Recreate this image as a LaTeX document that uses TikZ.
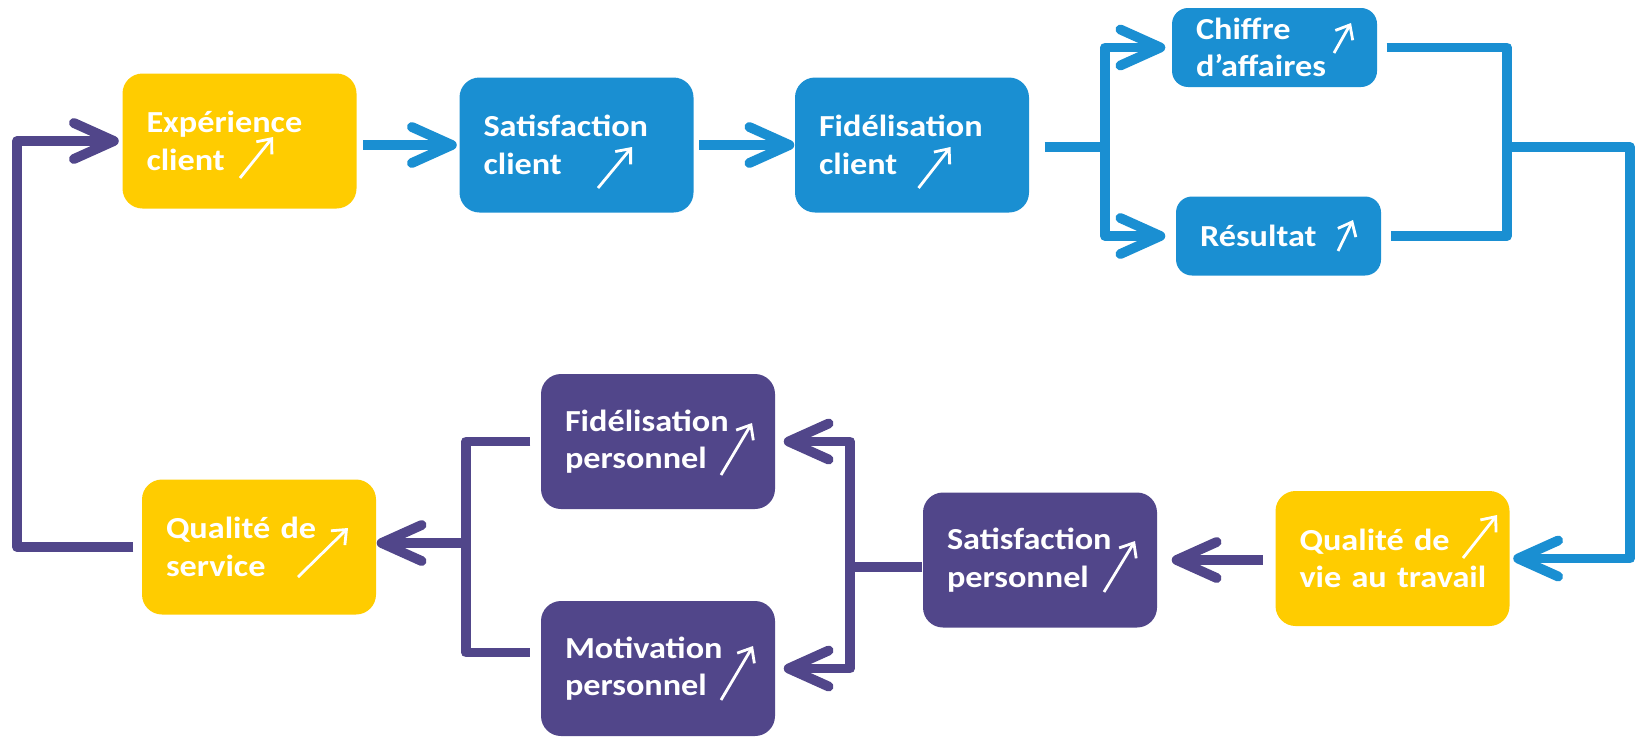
\documentclass[tikz,border=0pt]{standalone}
\usepackage{fontspec}
\setmainfont{Carlito}[FakeStretch=1.12]
\usepackage{tikz}
\usetikzlibrary{arrows.meta}
\definecolor{clientblue}{HTML}{1A8FD2}
\definecolor{staffpurple}{HTML}{51468A}
\definecolor{qualyellow}{HTML}{FFCC00}

\begin{document}
\begin{tikzpicture}[
  box/.style={rounded corners=0.2cm, align=left, text=white, inner xsep=0.24cm, inner ysep=0pt,
    text width=1.86cm, minimum height=1.35cm, font=\bfseries\fontsize{8.7}{10.7}\selectfont},
  smallbox/.style={box, text width=1.57cm, minimum height=0.79cm, rounded corners=0.16cm},
  link/.style={line width=2.8pt, line join=round},
  arrow/.style={link, -{Straight Barb[length=4mm, width=3.6mm, round]}},
  trend/.style={white, line width=0.8pt, -{Straight Barb[length=1.2mm, width=2mm]}},
]
  \useasboundingbox (0,0) rectangle (16.38,-7.36);

  \node[box, fill=qualyellow] (exp) at (2.395,-1.41) {Expérience\\client};
  \node[box, fill=clientblue] (satc) at (5.765,-1.45) {Satisfaction\\client};
  \node[box, fill=clientblue] (fidc) at (9.12,-1.45) {Fidélisation\\client};
  \node[smallbox, fill=clientblue] (ca) at (12.745,-0.475) {Chiffre\\d’affaires};
  \node[smallbox, fill=clientblue] (res) at (12.785,-2.36) {Résultat};

  \node[box, fill=qualyellow] (qvt) at (13.925,-5.585) {\mbox{Qualité de}\\\mbox{vie au travail}};
  \node[box, fill=staffpurple] (satp) at (10.40,-5.60) {Satisfaction\\personnel};
  \node[box, fill=staffpurple] (fidp) at (6.58,-4.415) {Fidélisation\\personnel};
  \node[box, fill=staffpurple] (motp) at (6.58,-6.685) {Motivation\\personnel};
  \node[box, fill=qualyellow] (qs) at (2.59,-5.47) {\mbox{Qualité de}\\service};

  \coordinate (bsplit) at (11.05,-1.47);
  \coordinate (bjoin) at (15.07,-1.47);
  \coordinate (bcorner) at (16.30,-1.47);
  \coordinate (psplit) at (8.50,-5.67);
  \coordinate (pmerge) at (4.66,-5.43);
  \coordinate (pback) at (0.17,-3.40);

  \draw[arrow, clientblue, shorten <=0.06cm, shorten >=0.02cm] (exp.east |- satc.west) -- (satc.west);
  \draw[arrow, clientblue, shorten <=0.05cm] (satc.east) -- (fidc.west);
  \draw[link, clientblue, shorten <=0.15cm] (fidc.east |- bsplit) -- (bsplit);
  \draw[arrow, clientblue, shorten >=0.06cm] (bsplit) |- (ca.west);
  \draw[arrow, clientblue, shorten >=0.10cm] (bsplit) |- (res.west);
  \draw[link, clientblue, shorten <=0.09cm, shorten >=0.09cm] (ca.east) -| (bjoin) |- (res.east);
  \draw[arrow, clientblue, shorten >=0.03cm] (bjoin) -- (bcorner) |- (qvt.east);

  \draw[arrow, staffpurple, shorten <=0.12cm, shorten >=0.14cm] (qvt.west |- satp.east) -- (satp.east);
  \draw[link, staffpurple] (satp.west |- psplit) -- (psplit);
  \draw[arrow, staffpurple, shorten >=0.08cm] (psplit) |- (fidp.east);
  \draw[arrow, staffpurple, shorten >=0.08cm] (psplit) |- (motp.east);
  \draw[link, staffpurple, shorten <=0.10cm, shorten >=0.10cm] (fidp.west) -| (pmerge) |- ([yshift=0.16cm]motp.west);
  \draw[arrow, staffpurple] (pmerge) -- (qs.east |- pmerge);
  \draw[arrow, staffpurple, shorten <=0.08cm, shorten >=0.03cm] (qs.west) -| (pback) |- (exp.west);

  \draw[trend] ([shift={(0.005,-0.37)}]exp.center) -- ++(0.33,0.41);
  \draw[trend] ([shift={(0.215,-0.43)}]satc.center) -- ++(0.34,0.41);
  \draw[trend] ([shift={(0.065,-0.43)}]fidc.center) -- ++(0.32,0.41);
  \draw[trend] ([shift={(0.595,-0.055)}]ca.center) -- ++(0.17,0.30);
  \draw[trend] ([shift={(0.595,-0.15)}]res.center) -- ++(0.15,0.31);
  \draw[trend] ([shift={(0.705,0.005)}]qvt.center) -- ++(0.34,0.43);
  \draw[trend] ([shift={(0.64,-0.32)}]satp.center) -- ++(0.31,0.51);
  \draw[trend] ([shift={(0.63,-0.335)}]fidp.center) -- ++(0.31,0.52);
  \draw[trend] ([shift={(0.63,-0.315)}]motp.center) -- ++(0.32,0.54);
  \draw[trend] ([shift={(0.39,-0.30)}]qs.center) -- ++(0.50,0.49);
\end{tikzpicture}
\end{document}
